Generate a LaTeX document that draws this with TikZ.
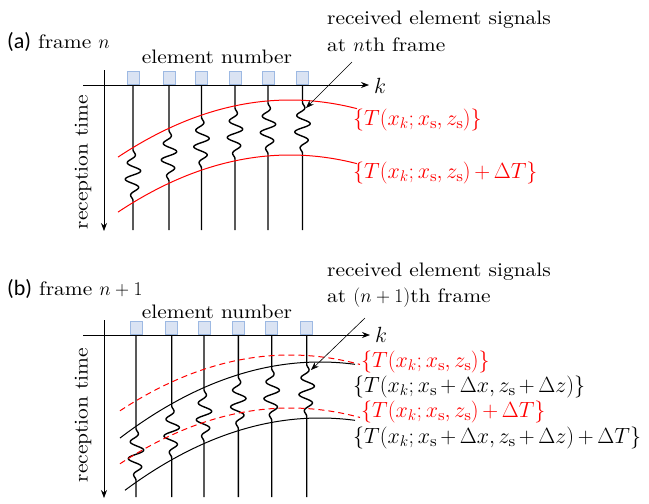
\RequirePackage{fix-cm}
\documentclass[tikz,border=0pt]{standalone}
\usepackage{fontspec}
\setmainfont{lmroman10-regular.otf}[FakeStretch=1.1]
\newfontfamily\tagfont{Carlito}
\usetikzlibrary{arrows.meta}
\definecolor{elemFill}{HTML}{DAE3F3}
\definecolor{elemLine}{HTML}{9DB9E3}
\definecolor{echoRed}{HTML}{FF0000}

\begin{document}
\begin{tikzpicture}[x=1pt, y=-1pt,
    txt/.style={font=\fontsize{19.5}{24}\selectfont, inner sep=0pt},
    mtxt/.style={font={\fontsize{22}{26}\selectfont\medmuskip=3mu\relax}, inner sep=0pt, anchor=west},
    elem/.style={draw=elemLine, fill=elemFill, line width=0.8pt, minimum width=12pt,
      minimum height=13pt, inner sep=0pt, anchor=south},
    axisline/.style={line width=0.7pt, -{Stealth[length=8pt, width=6pt]}},
    sig/.style={line width=1.4pt},
    wig/.style={variable=\t, domain=0:1, samples=61, smooth},
    front/.style={echoRed, line width=1pt},
    oldfront/.style={front, dash pattern=on 6pt off 4pt},
    newfront/.style={black, line width=1pt},
    pointer/.style={line width=0.6pt, -{Stealth[length=8pt, width=6pt]}}]
  \useasboundingbox (0,0) rectangle (649,504);

  % (a) frame n
  \node[txt, anchor=base west] (titleA) at (7,48)
    {{\tagfont\fontsize{22}{26}\selectfont (a)} frame $n$};
  \node[txt, anchor=base] (elnumA) at (217,63) {element number};
  \node[mtxt, anchor=base west] (kA) at (374,93) {$k$};
  \node[txt, rotate=90] (timeA) at (83,162) {reception time};
  \coordinate (origA) at (83,85);
  \coordinate (topA) at (104,70);
  \coordinate (endA) at (104,231);
  \draw[axisline, shorten >=5pt] (origA) -- (kA.west |- origA);
  \draw[axisline] (topA) -- (endA);

  \foreach \i/\x in {1/133,2/169,3/201.5,4/235,5/268,6/302.5} {
    \node[elem] (ea\i) at (\x,85) {};
    \pgfmathsetmacro\yu{100+19.3*((\x-290)/100)^2+2}
    \pgfmathsetmacro\yl{155+19.3*((\x-290)/100)^2-2}
    \draw[sig] (ea\i.south) -- (\x,\yu)
      -- plot[wig] ({\x+8*sin(1080*\t)*sin(180*\t)}, {\yu+(\yl-\yu)*\t}) -- (\x,230);
  }

  \draw[front] plot[domain=118:357, samples=40, smooth] (\x, {100+19.3*((\x-290)/100)^2});
  \draw[front] plot[domain=118:357, samples=40, smooth] (\x, {155+19.3*((\x-290)/100)^2});
  \node[mtxt, echoRed] (tA) at (353,120)
    {$\{T(x_k; x_\mathrm{s}, z_\mathrm{s})\}$};
  \node[mtxt, echoRed] (tdA) at (353,173)
    {$\{T(x_k; x_\mathrm{s}, z_\mathrm{s}) + \Delta T\}$};

  \node[txt, anchor=base west] (recvA) at (327,24) {received element signals};
  \node[txt, anchor=base west] (atA) at (327,51) {at $n$th frame};
  \coordinate (tailA) at (352,62);
  \coordinate (headA) at (306,108);
  \draw[pointer] (tailA) -- (headA);

  % (b) frame n+1
  \node[txt, anchor=base west] (titleB) at (7,295)
    {{\tagfont\fontsize{22}{26}\selectfont (b)} frame $n+1$};
  \node[txt, anchor=base] (elnumB) at (217,318) {element number};
  \node[mtxt, anchor=base west] (kB) at (375,342) {$k$};
  \node[txt, rotate=90] (timeB) at (83,415) {reception time};
  \coordinate (origB) at (83,335);
  \coordinate (topB) at (104,320);
  \coordinate (endB) at (104,498);
  \draw[axisline, shorten >=5pt] (origB) -- (kB.west |- origB);
  \draw[axisline] (topB) -- (endB);

  \foreach \i/\x in {1/136,2/171.7,3/204,4/238.3,5/271.7,6/306.7} {
    \node[elem] (eb\i) at (\x,335) {};
    \pgfmathsetmacro\yu{362+19*((\x-320)/100)^2+2}
    \pgfmathsetmacro\yl{418+19*((\x-320)/100)^2-2}
    \draw[sig] (eb\i.south) -- (\x,\yu)
      -- plot[wig] ({\x+8*sin(1080*\t)*sin(180*\t)}, {\yu+(\yl-\yu)*\t}) -- (\x,497);
  }

  \draw[oldfront] plot[domain=120:360, samples=40, smooth] (\x, {355+19.3*((\x-290)/100)^2});
  \draw[oldfront] plot[domain=120:360, samples=40, smooth] (\x, {408+19.3*((\x-290)/100)^2});
  \draw[newfront] plot[domain=120:355, samples=40, smooth] (\x, {362+19*((\x-320)/100)^2});
  \draw[newfront] plot[domain=125:355, samples=40, smooth] (\x, {418+19*((\x-320)/100)^2});
  \node[mtxt, echoRed] (tB) at (361,362)
    {$\{T(x_k; x_\mathrm{s}, z_\mathrm{s})\}$};
  \node[mtxt] (tnB) at (353,387)
    {$\{T(x_k; x_\mathrm{s}+\Delta x, z_\mathrm{s}+\Delta z)\}$};
  \node[mtxt, echoRed] (tdB) at (361,412)
    {$\{T(x_k; x_\mathrm{s}, z_\mathrm{s}) + \Delta T\}$};
  \node[mtxt] (tndB) at (353,438)
    {$\{T(x_k; x_\mathrm{s}+\Delta x, z_\mathrm{s}+\Delta z) + \Delta T\}$};

  \node[txt, anchor=base west] (recvB) at (327,276) {received element signals};
  \node[txt, anchor=base west] (atB) at (327,302) {at $(n+1)$th frame};
  \coordinate (tailB) at (365,318);
  \coordinate (headB) at (311,370);
  \draw[pointer] (tailB) -- (headB);
\end{tikzpicture}
\end{document}
